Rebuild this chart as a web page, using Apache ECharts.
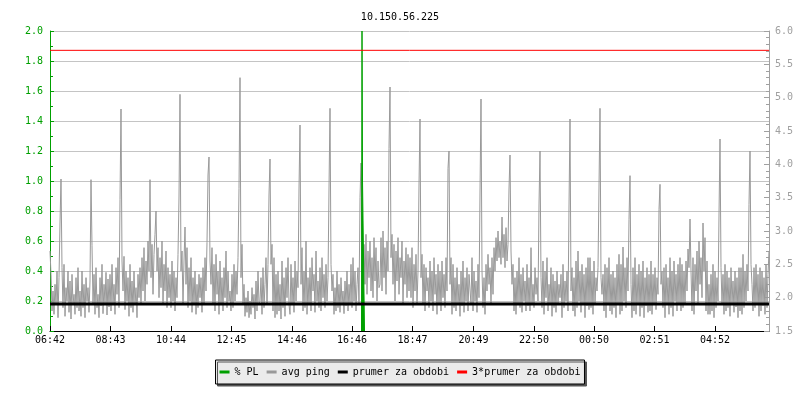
<!DOCTYPE html>
<html><head><meta charset="utf-8">
<script src="https://cdn.jsdelivr.net/npm/echarts@6/dist/echarts.min.js"></script>
<style>html,body{margin:0;padding:0;background:#fff}#c{width:800px;height:400px}</style>
</head><body><div id="c"></div>
<script>
// ---- data ----
const title = '10.150.56.225';
const xLabels = ['06:42','08:43','10:44','12:45','14:46','16:46','18:47','20:49','22:50','00:50','02:51','04:52'];
const spanMinutes = 1438;       // window shown (minutes from 06:42)
const pingStepMinutes = 2;      // one sample every 2 minutes
const leftTicks = [0.0, 2.0, 0.2];
const rightTicks = [1.5, 6.0, 0.5];
// avg ping (right axis), one value per sample, one row per hour
const avgPing = [
 2.70,2.35,1.80,2.10,1.75,2.20,1.90,2.40,1.70,2.30,3.12,3.78,2.45,1.85,2.50,1.72,2.15,1.95,2.40,1.78,2.25,1.68,2.35,1.90,2.05,1.75,2.30,1.85,2.45,1.80,
 2.10,1.72,2.40,1.85,2.20,1.70,2.30,1.95,2.15,1.78,2.25,3.77,2.78,1.90,2.35,1.75,2.45,1.85,2.05,1.70,2.30,1.88,2.50,1.76,2.20,1.92,2.38,1.74,2.28,1.86,
 2.35,1.80,2.50,1.90,2.20,1.75,2.45,2.05,2.60,1.85,3.47,4.83,2.55,2.10,2.62,1.82,2.40,1.95,2.30,1.72,2.50,1.85,2.25,1.78,2.40,1.90,2.15,1.70,2.35,2.00,
 2.45,1.90,2.60,2.10,2.75,1.95,2.55,2.20,2.85,2.40,3.77,2.30,2.80,2.05,2.65,2.95,3.30,2.40,2.75,2.00,2.60,2.15,2.85,1.90,2.50,2.10,2.70,1.85,2.45,2.00,
 2.35,1.85,2.55,1.95,2.40,1.80,2.30,2.00,2.65,3.51,5.05,2.40,2.70,1.90,2.55,3.06,2.20,2.75,1.85,2.45,1.95,2.60,1.78,2.30,1.90,2.40,1.75,2.20,1.85,2.35,
 2.00,2.30,1.78,2.45,1.90,2.60,2.10,2.83,3.84,4.11,2.55,2.20,2.75,1.90,2.50,1.80,2.65,2.05,2.40,1.75,2.55,1.90,2.30,1.80,2.45,2.00,2.70,1.85,2.40,1.95,
 2.10,1.80,2.35,1.85,2.50,1.95,2.40,2.05,2.60,3.64,5.30,2.30,2.80,1.90,2.20,1.72,2.00,1.78,2.10,1.70,1.95,1.75,2.15,1.85,2.05,1.68,2.25,1.80,2.40,1.90,
 1.95,2.30,1.75,2.45,1.85,2.20,2.60,1.90,2.50,3.54,4.08,2.50,2.80,1.80,2.60,1.70,2.35,1.75,2.40,1.80,2.20,1.68,2.55,1.85,2.30,1.72,2.45,2.00,2.60,1.90,
 1.75,2.50,1.90,2.30,1.78,2.55,1.95,2.40,2.15,3.63,4.59,2.20,2.75,1.80,2.40,1.85,2.85,1.75,2.30,1.90,2.45,1.80,2.60,2.10,2.35,1.78,2.70,1.95,2.25,1.85,
 2.45,1.80,2.60,2.00,2.35,1.85,2.50,1.95,2.30,3.63,4.84,2.50,2.10,2.35,1.75,2.15,1.80,2.40,1.85,2.20,1.78,2.30,1.90,2.10,1.76,2.25,1.88,2.40,1.80,2.20,
 1.90,2.50,1.85,2.60,1.95,2.40,1.80,2.20,2.45,1.90,3.50,4.02,2.45,1.90,2.80,2.20,2.95,2.05,2.70,2.30,2.85,2.10,2.60,2.00,2.90,2.25,2.75,1.95,2.55,2.15,
 2.20,2.90,2.10,3.00,2.30,2.75,2.05,2.85,2.40,4.24,5.16,2.60,2.95,2.20,2.80,1.95,2.70,2.25,2.90,2.05,2.60,2.30,2.85,1.90,2.55,2.20,2.75,2.00,2.65,2.10,
 2.60,2.00,2.75,1.85,2.50,2.10,2.65,1.90,2.40,3.69,4.68,2.30,2.65,1.90,2.50,1.80,2.45,2.10,2.30,1.85,2.55,1.95,2.40,1.80,2.60,2.05,2.35,1.75,2.50,1.90,
 2.40,1.80,2.55,2.00,2.35,1.85,2.60,2.10,3.94,4.20,2.20,2.60,1.75,2.50,1.85,2.30,1.80,2.45,1.90,2.20,1.72,2.40,1.88,2.55,1.78,2.30,1.95,2.45,1.80,2.35,
 2.35,1.90,2.60,1.80,2.40,1.95,2.25,1.78,2.50,2.00,3.57,4.98,2.40,1.85,2.30,1.75,2.50,2.10,2.65,2.20,2.45,1.90,2.60,2.05,2.75,2.40,2.90,2.55,3.00,2.60,
 2.85,2.50,3.21,2.60,2.95,2.45,3.05,2.55,2.80,3.63,4.14,2.70,2.20,2.50,1.80,2.30,1.75,2.40,1.90,2.60,1.85,2.35,1.78,2.45,1.95,2.25,1.80,2.50,1.88,2.30,
 1.80,2.75,1.90,2.20,1.85,2.45,2.05,2.30,1.95,3.39,4.20,2.30,1.85,2.55,1.75,2.40,2.00,2.60,1.80,2.20,1.90,2.45,1.72,2.35,1.85,2.25,1.78,2.40,1.92,2.20,
 2.00,2.35,1.70,2.50,1.85,2.25,1.95,2.40,1.80,3.36,4.68,2.10,2.45,1.80,2.30,1.72,2.55,1.85,2.70,1.95,2.40,1.78,2.50,1.90,2.35,1.70,2.45,1.88,2.60,1.82,
 2.60,1.85,2.40,1.75,2.55,1.90,2.30,2.10,2.45,3.66,4.84,2.30,2.05,2.35,1.80,2.50,1.70,2.45,1.90,2.60,1.80,2.35,1.75,2.40,1.85,2.30,1.70,2.50,1.90,2.65,
 1.75,2.50,1.80,2.76,1.95,2.45,1.85,2.60,2.10,3.17,3.83,2.20,1.70,2.45,1.80,2.60,1.75,2.35,1.90,2.50,1.72,2.40,1.85,2.55,1.70,2.30,1.88,2.45,1.78,2.35,
 1.80,2.55,1.75,2.35,1.90,2.45,1.82,2.30,2.05,3.32,3.70,2.20,2.40,1.85,2.45,1.70,2.50,1.90,2.30,1.75,2.60,1.85,2.40,1.72,2.55,1.95,2.35,1.80,2.50,1.90,
 2.60,1.80,2.50,1.85,2.40,1.90,2.55,2.10,2.73,2.45,3.18,2.40,1.80,2.60,1.75,2.50,2.10,2.70,1.90,2.85,2.20,2.60,2.00,3.12,2.40,2.90,1.80,2.55,1.75,2.20,
 1.75,2.35,1.80,2.50,1.70,2.40,1.85,2.30,1.95,3.24,4.38,2.45,1.90,2.35,1.75,2.50,1.80,2.40,1.85,2.30,1.72,2.45,1.90,2.25,1.78,2.40,1.86,2.30,1.70,2.45,
 1.80,2.45,1.75,2.65,1.85,2.40,1.95,2.50,2.10,3.40,4.20,2.50,2.20,1.80,2.45,1.85,2.50,1.90,2.35,1.72,2.45,1.80,2.40,1.88,2.30,1.75,2.50,1.85,2.35,2.70
];
// packet loss (left axis), only non-zero around the event
const plMinutes = [623, 624, 625, 628, 629];
const plValues  = [0,   2.0, 1.0, 1.0, 0];
const periodAvg = 1.905;
const tripleAvg = 5.71;
const seriesNames = ['% PL', 'avg ping', 'prumer za obdobi', '3*prumer za obdobi'];

// ---- build ----
function toMin(s){const [h,m]=s.split(':').map(Number);return h*60+m;}
const start = toMin(xLabels[0]);
const xTickValues = xLabels.map(l => ((toMin(l) - start) + 1440) % 1440);
function fmt(v){const t=(start+Math.round(v))%1440;const h=Math.floor(t/60),m=t%60;return (h<10?'0':'')+h+':'+(m<10?'0':'')+m;}

const FONT = 'DejaVu Sans Mono';
const GREEN = '#00a000', GRAY = '#999999', AXGRAY = '#a0a0a0', BLACK = '#000000', RED = '#ff0000';

const chart = echarts.init(document.getElementById('c'), null, {renderer:'canvas'});
chart.setOption({
  animation: false,
  backgroundColor: '#ffffff',
  title: { text: title, left: 'center', top: 7,
    textStyle: { fontFamily: FONT, fontSize: 10, fontWeight: 'normal', color: '#000' } },
  grid: { left: 50, right: 31, top: 31, bottom: 69 },
  legend: {
    data: seriesNames, bottom: 16, left: 'center', selectedMode: false,
    icon: 'rect', itemWidth: 10, itemHeight: 3, itemGap: 8,
    padding: [7, 4], backgroundColor: '#ebebeb', borderColor: '#000', borderWidth: 1,
    shadowColor: '#555', shadowBlur: 0, shadowOffsetX: 2, shadowOffsetY: 2,
    textStyle: { fontFamily: FONT, fontSize: 10, color: '#000' }
  },
  xAxis: {
    type: 'value', min: 0, max: spanMinutes,
    splitLine: { show: false },
    axisLine: { lineStyle: { color: '#000', width: 1 } },
    axisTick: { inside: true, length: 5, customValues: xTickValues, lineStyle: { color: '#000' } },
    axisLabel: { customValues: xTickValues, formatter: fmt, margin: 4,
      fontFamily: FONT, fontSize: 10, color: '#000' }
  },
  yAxis: [
    { type: 'value', min: leftTicks[0], max: leftTicks[1], interval: leftTicks[2], position: 'left',
      axisLine: { show: true, lineStyle: { color: GREEN, width: 1 } },
      axisTick: { show: true, inside: true, length: 4, lineStyle: { color: GREEN } },
      minorTick: { show: true, splitNumber: 2, length: 3, lineStyle: { color: GREEN } },
      axisLabel: { formatter: v => v.toFixed(1), margin: 7, fontFamily: FONT, fontSize: 10, color: GREEN },
      splitLine: { show: true, lineStyle: { color: '#c4c4c4', width: 1 } }
    },
    { type: 'value', min: rightTicks[0], max: rightTicks[1], interval: rightTicks[2], position: 'right',
      axisLine: { show: true, lineStyle: { color: AXGRAY, width: 1 } },
      axisTick: { show: true, inside: true, length: 5, lineStyle: { color: AXGRAY } },
      minorTick: { show: true, splitNumber: 5, length: 3, lineStyle: { color: AXGRAY } },
      axisLabel: { formatter: v => v.toFixed(1), margin: 6, fontFamily: FONT, fontSize: 10, color: AXGRAY },
      splitLine: { show: false }
    }
  ],
  series: [
    { name: seriesNames[1], type: 'line', yAxisIndex: 1, z: 2, showSymbol: false, silent: true,
      color: GRAY, lineStyle: { color: GRAY, width: 1 },
      data: avgPing.map((v, i) => [i * pingStepMinutes, v]) },
    { name: seriesNames[0], type: 'line', yAxisIndex: 0, z: 3, showSymbol: false, silent: true,
      color: GREEN, lineStyle: { color: GREEN, width: 1 }, areaStyle: { color: GREEN, opacity: 1 },
      data: plMinutes.map((m, i) => [m, plValues[i]]) },
    { name: seriesNames[2], type: 'line', yAxisIndex: 1, z: 4, showSymbol: false, silent: true,
      color: BLACK, lineStyle: { color: BLACK, width: 3 },
      data: [[0, periodAvg], [spanMinutes, periodAvg]] },
    { name: seriesNames[3], type: 'line', yAxisIndex: 1, z: 4, showSymbol: false, silent: true,
      color: RED, lineStyle: { color: RED, width: 1 },
      data: [[0, tripleAvg], [spanMinutes, tripleAvg]] }
  ]
});
</script></body></html>
